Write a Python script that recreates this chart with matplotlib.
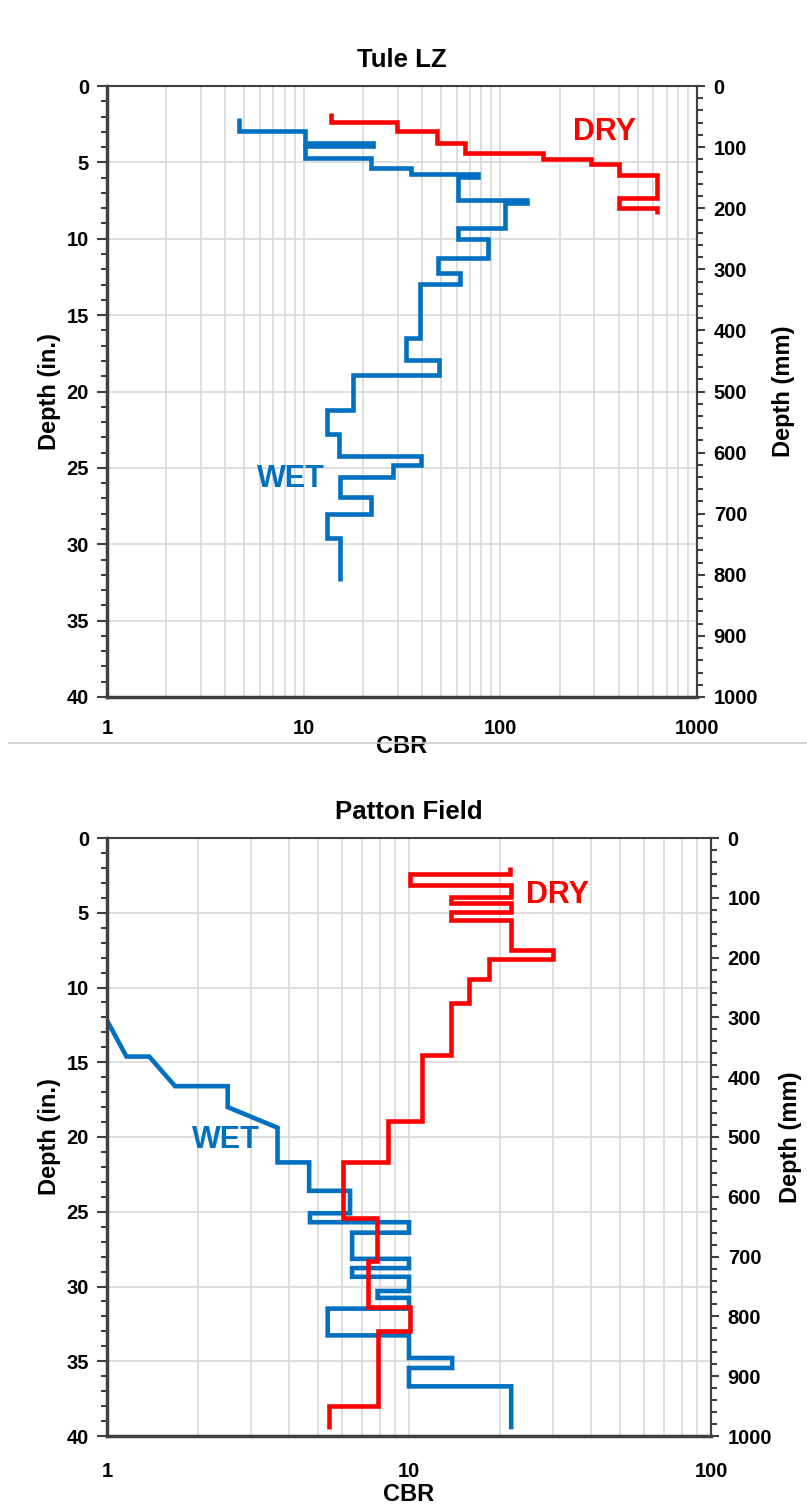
import matplotlib.pyplot as plt
from matplotlib.ticker import MultipleLocator, LogLocator, NullFormatter
from matplotlib.lines import Line2D

plt.rcParams['font.family'] = ['Liberation Sans', 'DejaVu Sans']
plt.rcParams['font.weight'] = 'bold'

#---datos Tule LZ---#
tule_wet_cbr = [4.7, 4.7, 10.1, 10.1, 22.4, 22.4, 10.1, 10.1, 22, 22, 35, 35, 77, 77, 61, 61,
                136, 136, 106, 106, 61, 61, 87, 87, 48, 48, 62, 62, 39, 39, 33.3, 33.3,
                48.6, 48.6, 17.8, 17.8, 13.1, 13.1, 15.2, 15.2, 39.4, 39.4, 28.3, 28.3,
                15.3, 15.3, 22.1, 22.1, 13.1, 13.1, 15.3, 15.3]
tule_wet_depth = [2.07, 2.95, 2.95, 3.71, 3.71, 3.93, 3.93, 4.74, 4.74, 5.39, 5.39, 5.76, 5.76,
                  5.96, 5.96, 7.47, 7.47, 7.69, 7.69, 9.32, 9.32, 10.04, 10.04, 11.24, 11.24,
                  12.23, 12.23, 12.99, 12.99, 16.5, 16.5, 17.95, 17.95, 18.9, 18.9, 21.2,
                  21.2, 22.8, 22.8, 24.2, 24.2, 24.8, 24.8, 25.6, 25.6, 26.9, 26.9, 28.0,
                  28.0, 29.6, 29.6, 32.4]
tule_dry_cbr = [13.7, 13.7, 29.9, 29.9, 47.5, 47.5, 65.9, 65.9, 164, 164, 290, 290, 400, 400,
                627, 627, 400, 400, 627, 627]
tule_dry_depth = [1.79, 2.34, 2.34, 2.95, 2.95, 3.73, 3.73, 4.37, 4.37, 4.76, 4.76, 5.13, 5.13,
                  5.83, 5.83, 7.36, 7.36, 7.97, 7.97, 8.4]

#---datos Patton Field---#
patton_dry_cbr = [21.6, 21.6, 10.1, 10.1, 21.8, 21.8, 13.8, 13.8, 21.8, 21.8, 13.8, 13.8, 21.8,
                  21.8, 30, 30, 18.4, 18.4, 15.8, 15.8, 13.8, 13.8, 11.0, 11.0, 8.5, 8.5, 6.05,
                  6.05, 7.83, 7.83, 7.3, 7.3, 10.1, 10.1, 7.87, 7.87, 5.42, 5.42]
patton_dry_depth = [1.96, 2.4, 2.4, 3.17, 3.17, 3.94, 3.94, 4.38, 4.38, 4.93, 4.93, 5.48, 5.48,
                    7.47, 7.47, 8.08, 8.08, 9.4, 9.4, 11.04, 11.04, 14.5, 14.5, 18.94, 18.94,
                    21.7, 21.7, 25.4, 25.4, 28.3, 28.3, 31.35, 31.35, 33.0, 33.0, 38.0, 38.0,
                    39.55]
patton_wet_cbr = [1.0, 1.16, 1.38, 1.68, 2.51, 2.51, 3.67, 3.67, 4.67, 4.67, 6.38, 6.38, 4.7,
                  4.7, 10, 10, 6.48, 6.48, 10, 10, 6.48, 6.48, 10, 10, 7.87, 7.87, 10, 10,
                  5.38, 5.38, 10, 10, 13.9, 13.9, 10, 10, 21.8, 21.8]
patton_wet_depth = [12.2, 14.62, 14.62, 16.6, 16.6, 18.0, 19.38, 21.7, 21.7, 23.6, 23.6, 25.1,
                    25.1, 25.7, 25.7, 26.4, 26.4, 28.15, 28.15, 28.77, 28.77, 29.35, 29.35,
                    30.3, 30.3, 30.76, 30.76, 31.48, 31.48, 33.27, 33.27, 34.78, 34.78, 35.45,
                    35.45, 36.68, 36.68, 39.55]

ROJO = '#ff0000'
AZUL = '#0070c0'
GRIS = '#404040'

fig = plt.figure(figsize=(8.07, 15.07), dpi=100)


def panel(pos, titulo, xmax, wet, dry, wet_lbl, dry_lbl, xpad, cbrpad, mmpad):
    ax = fig.add_axes(pos)
    ax.plot(wet[0], wet[1], color=AZUL, lw=3.3, solid_joinstyle='miter', solid_capstyle='butt')
    ax.plot(dry[0], dry[1], color=ROJO, lw=3.3, solid_joinstyle='miter', solid_capstyle='butt')
    ax.set_xscale('log')
    ax.set_xlim(1, xmax)
    ax.set_ylim(40, 0)
    ax.xaxis.set_minor_locator(LogLocator(base=10, subs=range(2, 10), numticks=10))
    ax.xaxis.set_minor_formatter(NullFormatter())
    decadas = [10 ** i for i in range(0, len(str(xmax)))]
    ax.set_xticks(decadas)
    ax.set_xticklabels([str(d) for d in decadas])
    ax.yaxis.set_major_locator(MultipleLocator(5))
    ax.yaxis.set_minor_locator(MultipleLocator(1))
    ax.grid(True, which='both', axis='x', color='#d9d9d9', lw=1.2)
    ax.grid(True, which='major', axis='y', color='#d9d9d9', lw=1.2)
    ax.tick_params(axis='x', which='both', length=0, labelsize=14.5, pad=xpad)
    ax.tick_params(axis='y', which='major', length=7, width=1.5, color=GRIS, labelsize=14.5, pad=6)
    ax.tick_params(axis='y', which='minor', length=4, width=1.5, color=GRIS)
    for s in ax.spines.values():
        s.set_color(GRIS)
        s.set_linewidth(1.5)
    ax.spines['bottom'].set_linewidth(2.5)
    ax.spines['left'].set_linewidth(2.5)
    ax.set_title(titulo, fontsize=18.5, fontweight='bold', pad=14)
    ax.set_xlabel('CBR', fontsize=17, fontweight='bold', labelpad=cbrpad)
    ax.set_ylabel('Depth (in.)', fontsize=17, fontweight='bold', labelpad=4)
    ax.text(wet_lbl[0], wet_lbl[1], 'WET', color=AZUL, fontsize=22, fontweight='bold',
            ha='center', va='center')
    ax.text(dry_lbl[0], dry_lbl[1], 'DRY', color=ROJO, fontsize=22, fontweight='bold',
            ha='center', va='center')
    ax2 = ax.twinx()
    ax2.set_ylim(1000, 0)
    ax2.yaxis.set_major_locator(MultipleLocator(100))
    ax2.yaxis.set_minor_locator(MultipleLocator(20))
    ax2.tick_params(axis='y', which='major', length=6, width=1.5, color=GRIS, labelsize=14.5, pad=6)
    ax2.tick_params(axis='y', which='minor', length=4, width=1.5, color=GRIS)
    ax2.set_ylabel('Depth (mm)', fontsize=17, fontweight='bold', labelpad=mmpad)
    for s in ax2.spines.values():
        s.set_visible(False)
    ax2.spines['right'].set_visible(True)
    ax2.spines['right'].set_color(GRIS)
    ax2.spines['right'].set_linewidth(1.5)
    return ax


panel([107 / 807, 1 - 697 / 1507, 590 / 807, 611 / 1507], 'Tule LZ', 1000,
      (tule_wet_cbr, tule_wet_depth), (tule_dry_cbr, tule_dry_depth), (8.6, 25.7), (337, 3.0),
      16, -2, 10)
panel([107 / 807, 1 - 1436 / 1507, 604 / 807, 598 / 1507], 'Patton Field', 100,
      (patton_wet_cbr, patton_wet_depth), (patton_dry_cbr, patton_dry_depth), (2.48, 20.2), (31, 3.8),
      19, 1, 5)

# linea separadora entre las dos graficas
fig.add_artist(Line2D([9 / 807, 1], [1 - 743 / 1507, 1 - 743 / 1507], color='#cccccc', lw=1.2))

plt.savefig('out.png', dpi=100)
